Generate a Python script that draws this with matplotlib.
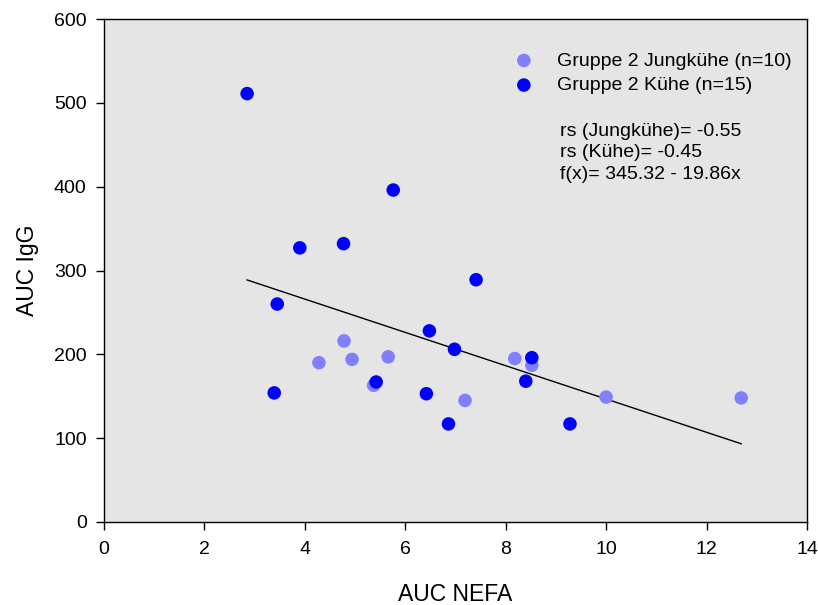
import matplotlib
matplotlib.use("Agg")
import matplotlib.pyplot as plt
import numpy as np

plt.rcParams['font.family'] = ['Liberation Sans', 'DejaVu Sans']

# Data
jung_x = [4.78, 4.28, 4.94, 5.66, 5.37, 7.19, 8.18, 8.52, 10.0, 12.69]
jung_y = [216, 190, 194, 197, 163, 145, 195, 187, 149, 148]
kuh_x = [2.85, 5.76, 3.90, 4.77, 3.45, 7.41, 6.48, 6.98, 8.52, 5.42, 8.40, 3.39, 6.42, 6.86, 9.28]
kuh_y = [511, 396, 327, 332, 260, 289, 228, 206, 196, 167, 168, 154, 153, 117, 117]
intercept = 345.32
slope = -19.86
labels = ["Gruppe 2 Jungkühe (n=10)", "Gruppe 2 Kühe (n=15)"]
notes = ["rs (Jungkühe)= -0.55", "rs (Kühe)= -0.45", "f(x)= 345.32 - 19.86x"]
xticks = [0, 2, 4, 6, 8, 10, 12, 14]
yticks = [0, 100, 200, 300, 400, 500, 600]

fig = plt.figure(figsize=(8.18, 6.05), dpi=100)
ax = fig.add_axes([104/818, 1-522/605, 703/818, 503/605])
ax.set_facecolor('#e5e5e5')

ax.scatter(jung_x, jung_y, s=95, color='#8080ff', edgecolors='none', zorder=3, label=labels[0])
ax.scatter(kuh_x, kuh_y, s=95, color='#0000ff', edgecolors='none', zorder=4, label=labels[1])

allx = np.array(jung_x + kuh_x)
lx = np.array([allx.min(), allx.max()])
ax.plot(lx, intercept + slope * lx, color='black', lw=1.0, zorder=2)

ax.set_xlim(0, 14)
ax.set_ylim(0, 600)
ax.set_xticks(xticks)
ax.set_yticks(yticks)
ax.tick_params(direction='out', length=5.5, width=1.0, labelsize=14, top=False, right=False)
ax.tick_params(axis='x', pad=8.5)
ax.tick_params(axis='y', pad=7)
for sp in ax.spines.values():
    sp.set_linewidth(1.0)

ax.set_xlabel("AUC NEFA", fontsize=16.5, labelpad=18)
ax.set_ylabel("AUC IgG", fontsize=16.5, labelpad=11)

leg = ax.legend(loc='upper left', bbox_to_anchor=(0.5585, 0.950), frameon=False, fontsize=14,
                handletextpad=0.7, labelspacing=0.36, borderaxespad=0, markerscale=1.0)

ys = [0.776, 0.7336, 0.6899]
for t, yy in zip(notes, ys):
    ax.text(0.6486, yy, t, transform=ax.transAxes, fontsize=14, va='center', ha='left')

fig.savefig("out.png", dpi=100)
